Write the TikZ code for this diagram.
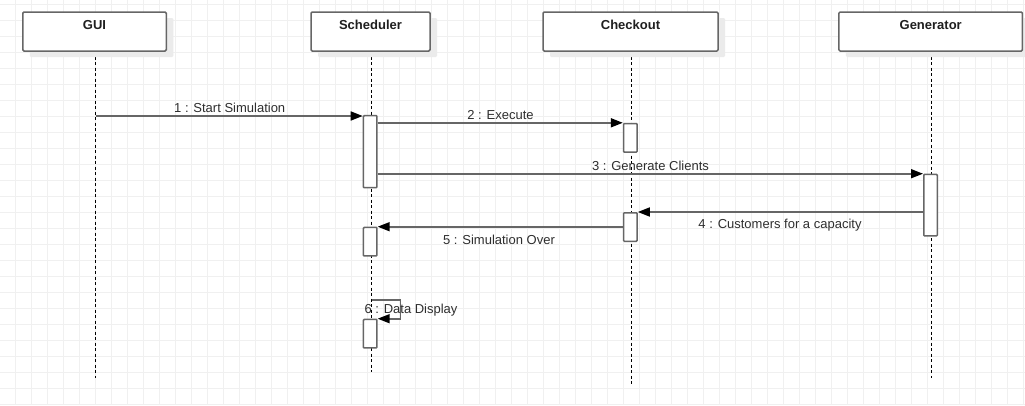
\documentclass[tikz,border=0pt]{standalone}
\usepackage{fontspec}
\setmainfont{Liberation Sans}
\usetikzlibrary{arrows.meta,shadows,calc}
\definecolor{gridc}{HTML}{F0F0F0}
\definecolor{linec}{HTML}{666666}
\definecolor{txtc}{HTML}{2E2E2E}
\definecolor{shadc}{HTML}{EBEBEB}
\tikzset{
  objbox/.style={draw=linec, line width=1.5pt, fill=white, rounded corners=1.2pt,
    minimum height=39pt, inner sep=0pt,
    general shadow={fill=shadc, shadow xshift=7pt, shadow yshift=-6pt}},
  titletext/.style={font=\fontsize{13pt}{15pt}\selectfont\bfseries, text=black!88},
  lifeline/.style={draw=black, line width=1pt, dash pattern=on 3pt off 2.5pt},
  actbox/.style={draw=linec, line width=1.5pt, fill=white, rounded corners=0.8pt,
    minimum width=13.5pt, inner sep=0pt},
  msg/.style={draw=linec, line width=1.6pt, -{Triangle[length=12pt,width=9pt,color=black]}},
  msglabel/.style={font=\fontsize{13pt}{15pt}\selectfont, text=txtc, inner sep=0pt}
}
\begin{document}
\begin{tikzpicture}[x=1pt,y=-1pt]
\useasboundingbox (0,0) rectangle (1025,405);
\fill[white] (0,0) rectangle (1025,405);
% grid
\foreach \k in {0,...,63} {\draw[gridc, line width=1pt] (15.5+16*\k,0) -- (15.5+16*\k,405);}
\foreach \k in {0,...,25} {\draw[gridc, line width=1pt] (0,4.3+16*\k) -- (1025,4.3+16*\k);}

% lifelines
\coordinate (guiE) at (95.5,378);
\coordinate (schE) at (371.5,372);
\coordinate (chkE) at (631.5,384);
\coordinate (genE) at (931.5,378);
\draw[lifeline] (95.5,51) -- (guiE);
\draw[lifeline] (371.5,51) -- (schE);
\draw[lifeline] (631.5,51) -- (chkE);
\draw[lifeline] (931.5,51) -- (genE);

% object boxes
\node[objbox, minimum width=143.5pt] (gui) at (94.5,31.5) {};
\node[objbox, minimum width=119pt] (sch) at (370.5,31.5) {};
\node[objbox, minimum width=175pt] (chk) at (630.5,31.5) {};
\node[objbox, minimum width=183.5pt] (gen) at (930.7,31.5) {};
\node[titletext] (guiT) at (94.5,25) {GUI};
\node[titletext] (schT) at (370.5,25) {Scheduler};
\node[titletext] (chkT) at (630.5,25) {Checkout};
\node[titletext] (genT) at (930.7,25) {Generator};

% activations
\node[actbox, minimum height=72pt] (s1) at (370.2,151.7) {};
\node[actbox, minimum height=28.5pt] (c1) at (630.3,137.8) {};
\node[actbox, minimum height=61.5pt] (g1) at (930.5,205.2) {};
\node[actbox, minimum height=28.5pt] (c2) at (630.3,227) {};
\node[actbox, minimum height=28.5pt] (s2) at (370.2,241.7) {};
\node[actbox, minimum height=28.5pt] (s3) at (370.2,333.7) {};

% messages
\coordinate (m1s) at (95.5,116);
\draw[msg] (m1s) -- (s1.north west |- m1s);
\node[msglabel] (l1) at (229.7,107.5) {1 : Start Simulation};

\draw[msg] (s1.east |- c1.north) -- (c1.north west);
\node[msglabel] (l2) at (500.5,115.3) {2 : Execute};

\draw[msg] (s1.east |- g1.north) -- (g1.north west);
\node[msglabel] (l3) at (650.5,166.3) {3 : Generate Clients};

\draw[msg] (g1.west |- c2.north) -- (c2.north east);
\node[msglabel] (l4) at (780,225.5) {4 : Customers for a capacity};

\draw[msg] (c2.west |- s2.north) -- (s2.north east);
\node[msglabel] (l5) at (499,240.3) {5 : Simulation Over};

\coordinate (m6s) at (371.7,300);
\coordinate (m6a) at (400.5,300);
\draw[msg] (m6s) -- (m6a) -- (m6a |- s3.north) -- (s3.north east);
\node[msglabel] (l6) at (411,310.3) {6 : Data Display};
\end{tikzpicture}
\end{document}
